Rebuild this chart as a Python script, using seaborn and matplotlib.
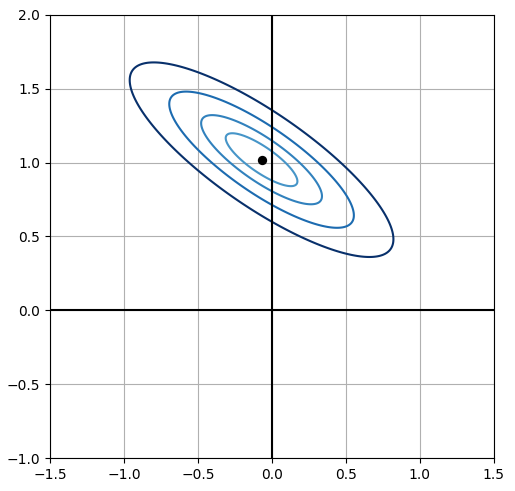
import numpy as np
import pandas as pd
import matplotlib
matplotlib.use("Agg")
import matplotlib.pyplot as plt
import seaborn as sns

# centre de l'ellipse (point noir) et forme de la forme quadratique
centre = [-0.07, 1.02]
cov = [[0.794, -0.48],
       [-0.48, 0.434]]
# niveaux des contours (1.0 = ellipse extérieure)
niveaux = [0.074, 0.21, 0.49, 1.0]
x_ticks = [-1.5, -1.0, -0.5, 0.0, 0.5, 1.0, 1.5]
y_ticks = [-1.0, -0.5, 0.0, 0.5, 1.0, 1.5, 2.0]

fig = plt.figure(figsize=(5.15, 4.91), dpi=100)
ax = fig.add_axes([0.097, 0.0672, 0.862, 0.9023])

# grille pour évaluer la forme quadratique
xs = np.linspace(-1.5, 1.5, 400)
ys = np.linspace(-1.0, 2.0, 400)
X, Y = np.meshgrid(xs, ys)
A = np.linalg.inv(np.array(cov))
dx = X - centre[0]
dy = Y - centre[1]
Z = A[0, 0] * dx**2 + 2 * A[0, 1] * dx * dy + A[1, 1] * dy**2

couleurs = plt.cm.Blues([0.61, 0.69, 0.77, 1.0])
ax.contour(X, Y, Z, levels=niveaux, colors=couleurs, linewidths=1.5, zorder=3)

pt = pd.DataFrame({"x": [centre[0]], "y": [centre[1]]})
sns.scatterplot(data=pt, x="x", y="y", color="black", s=45, edgecolor="black",
                linewidth=0, zorder=5, ax=ax)

ax.axhline(0, color="black", linewidth=1.5, zorder=4)
ax.axvline(0, color="black", linewidth=1.5, zorder=4)

ax.set_xlim(-1.5, 1.5)
ax.set_ylim(-1.0, 2.0)
ax.set_xticks(x_ticks)
ax.set_yticks(y_ticks)
ax.set_xlabel("")
ax.set_ylabel("")
ax.grid(True, zorder=0)
ax.set_axisbelow(True)

plt.savefig("out.png", dpi=100)
